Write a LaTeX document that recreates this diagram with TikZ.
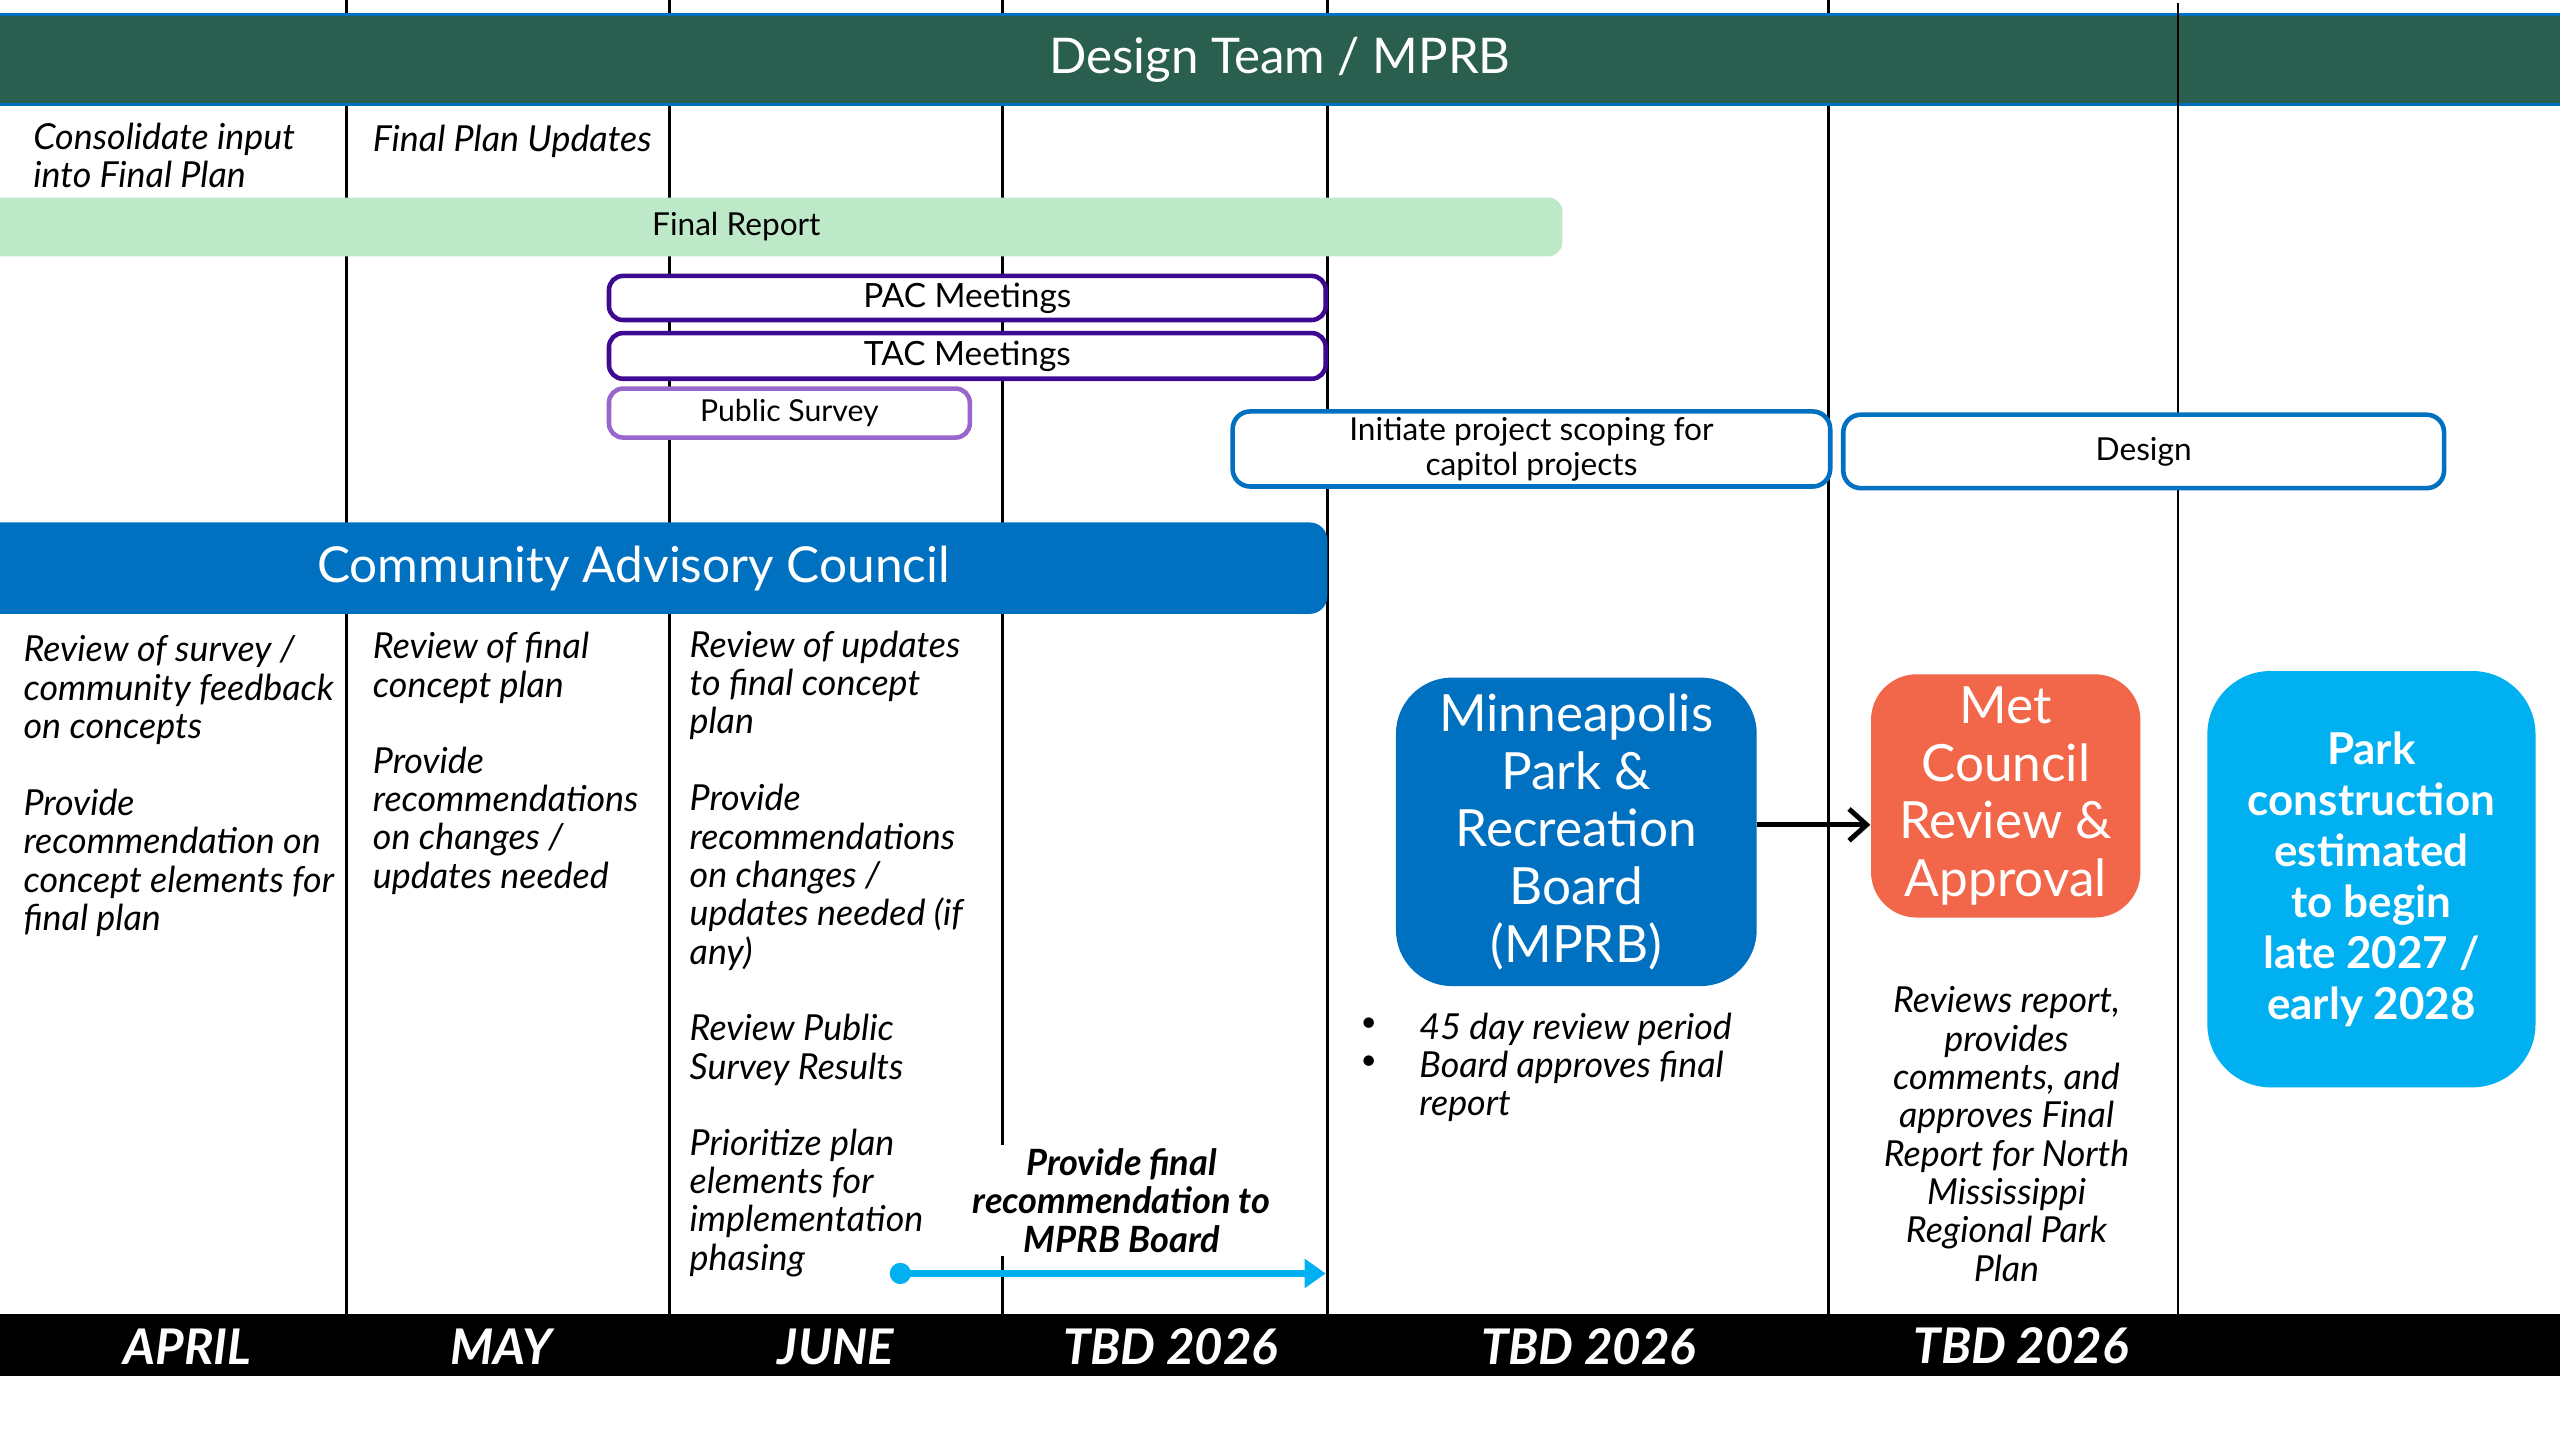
\documentclass[tikz,border=0pt]{standalone}
\usepackage{fontspec}
\setmainfont{Lato}
\usetikzlibrary{arrows.meta}
\newlength\px
\setlength\px{0.016327cm}
\definecolor{teamgreen}{HTML}{2A5E4F}
\definecolor{cacblue}{HTML}{0070C0}
\definecolor{reportgreen}{HTML}{BDE9C9}
\definecolor{pacpurple}{HTML}{3E0A91}
\definecolor{surveypurple}{HTML}{9966CC}
\definecolor{metorange}{HTML}{F26649}
\definecolor{parkcyan}{HTML}{00B0F0}

\begin{document}
\begin{tikzpicture}[x=0.016327cm,y=-0.016327cm,
    colline/.style={black,line width=0.8pt},
    note/.style={font=\itshape\fontsize{10.2}{10.9}\selectfont,align=left,anchor=north west,inner sep=0pt},
    meetbox/.style={draw=#1,fill=white,line width=1.3pt,rounded corners=4pt,font=\fontsize{9.5}{11}\selectfont,inner sep=0pt},
    scopebox/.style={draw=cacblue,fill=white,line width=1.3pt,rounded corners=5pt,font=\fontsize{9}{10}\selectfont,align=center,inner sep=0pt},
    bigbox/.style={fill=#1,text=white,rounded corners=16pt,align=center,inner sep=0pt,font=\fontsize{14.6}{16.4}\selectfont},
    month/.style={text=white,font=\bfseries\itshape\fontsize{14}{16}\selectfont}]
  \useasboundingbox (0,0) rectangle (1568,882);
  \foreach \x in {212,410,614,813,1120}
    \draw[colline] (\x,0) -- (\x,805);
  \node[fill=teamgreen,draw=cacblue,line width=0.7pt,minimum width=1600*\px,minimum height=55*\px,text=white,
    font=\fontsize{14}{16}\selectfont] (team) at (784,36.5) {Design Team / MPRB};
  \draw[colline] (1334,2) -- (1334,805);
  \node[note] (consolidate) at (20,75) {Consolidate input\\into Final Plan};
  \node[note] (updates) at (228,76) {Final Plan Updates};
  \node[fill=reportgreen,rounded corners=4pt,minimum width=1012*\px,minimum height=36*\px,
    font=\fontsize{9}{10}\selectfont] (report) at (451,139) {Final Report};
  \node[meetbox=pacpurple,minimum width=439*\px,minimum height=27*\px] (pac) at (592.5,182.5) {PAC Meetings};
  \node[meetbox=pacpurple,minimum width=439*\px,minimum height=28*\px] (tac) at (592.5,218) {TAC Meetings};
  \node[meetbox=surveypurple,minimum width=221*\px,minimum height=30*\px,font=\fontsize{8.6}{10}\selectfont]
    (survey) at (483.5,253) {Public Survey};
  \node[scopebox,minimum width=366*\px,minimum height=46*\px] (scoping) at (938,275) {Initiate project scoping for\\capitol projects};
  \node[scopebox,minimum width=368*\px,minimum height=45*\px] (design) at (1313,276.5) {Design};
  \node[fill=cacblue,rounded corners=5pt,minimum width=850*\px,minimum height=56*\px,text=white,
    font=\fontsize{14.1}{16}\selectfont] (cac) at (388,348) {Community Advisory Council};
  \node[note] (april1) at (14,389) {Review of survey /\\community feedback\\on concepts};
  \node[note] (april2) at (14,483) {Provide\\recommendation on\\concept elements for\\final plan};
  \node[note] (may1) at (228,387) {Review of final\\concept plan};
  \node[note] (may2) at (228,457) {Provide\\recommendations\\on changes /\\updates needed};
  \node[note] (june1) at (422,386) {Review of updates\\to final concept\\plan};
  \node[note] (june2) at (422,480) {Provide\\recommendations\\on changes /\\updates needed (if\\any)};
  \node[note] (june3) at (422,621) {Review Public\\Survey Results};
  \node[note] (june4) at (422,691) {Prioritize plan\\elements for\\implementation\\phasing};
  \node[fill=white,inner sep=1pt,align=center,anchor=north,font=\bfseries\itshape\fontsize{10.3}{10.9}\selectfont]
    (finalrec) at (687,701) {Provide final\\recommendation to\\MPRB Board};
  \coordinate (recstart) at (545,780);
  \coordinate (recend) at (812,780);
  \draw[parkcyan,line width=1.8pt,{Circle[length=6pt]}-{Triangle[length=6pt,width=8pt]}] (recstart) -- (recend);
  \node[bigbox=cacblue,minimum width=221*\px,minimum height=189*\px] (mprb) at (965.5,509.5)
    {Minneapolis\\Park \&\\Recreation\\Board\\(MPRB)};
  \node[bigbox=metorange,rounded corners=13pt,minimum width=165*\px,minimum height=149*\px] (met) at (1228.5,487.5)
    {Met\\Council\\Review \&\\Approval};
  \node[bigbox=parkcyan,rounded corners=18pt,minimum width=201*\px,minimum height=255*\px,
    font=\bfseries\fontsize{12.5}{14.5}\selectfont] (park) at (1452.5,538.5)
    {Park\\construction\\estimated\\to begin\\late 2027 /\\early 2028};
  \draw[black,line width=1.4pt,-{Straight Barb[length=5pt,width=9pt]}] ([yshift=2pt]mprb.east) -- ([yshift=2pt]mprb.east -| met.west);
  \node[note,font=\fontsize{8}{10.9}\selectfont] (bullets) at (833,623) {•\\•};
  \node[note] (board) at (869,620) {45 day review period\\Board approves final\\report};
  \node[note,align=center,anchor=north] (metnote) at (1229,604)
    {Reviews report,\\provides\\comments, and\\approves Final\\Report for North\\Mississippi\\Regional Park\\Plan};
  \fill[black] (0,805) rectangle (1568,843);
  \node[month] (april) at (115,825) {APRIL};
  \node[month] (may) at (307,825) {MAY};
  \node[month] (june) at (512,825) {JUNE};
  \node[month] (tbda) at (717,825) {TBD 2026};
  \node[month] (tbdb) at (973,825) {TBD 2026};
  \node[month] (tbdc) at (1238,824) {TBD 2026};
\end{tikzpicture}
\end{document}
